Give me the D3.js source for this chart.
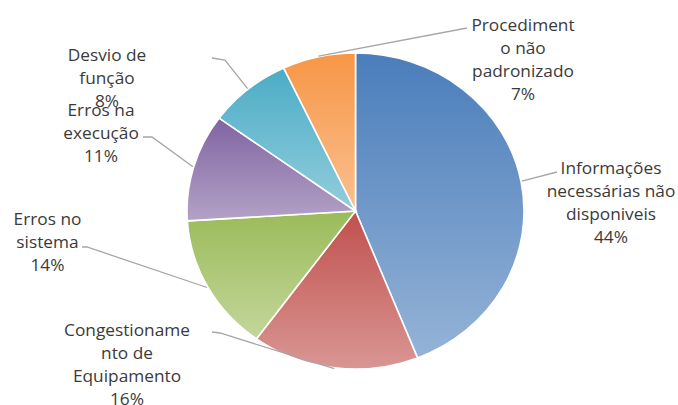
<!DOCTYPE html>
<html>
<head>
<meta charset="utf-8">
<script src="https://cdn.jsdelivr.net/npm/d3@7"></script>
<style>
  html, body { margin: 0; padding: 0; background: #ffffff; }
  svg { display: block; }
</style>
</head>
<body>
<svg id="chart" width="678" height="405"></svg>
<script>
// ---- data ----
const categories = [
  "Informações necessárias não disponiveis",
  "Congestionamento de Equipamento",
  "Erros no sistema",
  "Erros na execução",
  "Desvio de função",
  "Procedimento não padronizado"
];
const labelLines = [
  ["Informações", "necessárias não", "disponiveis"],
  ["Congestioname", "nto de", "Equipamento"],
  ["Erros no", "sistema"],
  ["Erros na", "execução"],
  ["Desvio de", "função"],
  ["Procediment", "o não", "padronizado"]
];
const values = [44, 16, 14, 11, 8, 7];
const colorsTop    = ["#4a7dbb", "#c0504d", "#9bbb59", "#8064a2", "#4bacc6", "#f79646"];
const colorsBottom = ["#95b3d7", "#d99694", "#c3d69b", "#b3a2c7", "#93cddd", "#fac090"];

// ---- layout ----
const W = 678, H = 405;
const cx = 355.5, cy = 211, ry = 158, rx = 168.5;
const sx = rx / ry;
// label block: center x, first baseline y, leader start points (near label)
const labelLayout = [
  { x: 611, y: 174, lead: [[557, 172]] },
  { x: 127, y: 336, lead: [[212, 332], [220, 333]] },
  { x: 47.5, y: 225, lead: [[82, 247], [87, 247]] },
  { x: 101, y: 116, lead: [[143, 137], [152, 137]] },
  { x: 107, y: 61, lead: [[212, 58], [225, 60]] },
  { x: 523, y: 31, lead: [[467, 28]] }
];
const lineH = 23;

const svg = d3.select("#chart");
const defs = svg.append("defs");

colorsTop.forEach((c, i) => {
  const g = defs.append("linearGradient")
    .attr("id", "grad" + i)
    .attr("x1", 0).attr("y1", 0).attr("x2", 0).attr("y2", 1);
  g.append("stop").attr("offset", "0%").attr("stop-color", c);
  g.append("stop").attr("offset", "100%").attr("stop-color", colorsBottom[i]);
});

const pie = d3.pie().sort(null).value(d => d)(values);
const arc = d3.arc().innerRadius(0).outerRadius(ry);

const gPie = svg.append("g")
  .attr("transform", `translate(${cx},${cy}) scale(${sx},1)`);

gPie.selectAll("path")
  .data(pie)
  .join("path")
  .attr("d", arc)
  .attr("fill", (d, i) => `url(#grad${i})`)
  .attr("stroke", "#ffffff")
  .attr("stroke-width", 1.6)
  .attr("vector-effect", "non-scaling-stroke");

// leader lines
const leaderPts = pie.map((d, i) => {
  const a = (d.startAngle + d.endAngle) / 2;
  const end = [cx + Math.sin(a) * rx * 1.005, cy - Math.cos(a) * ry * 1.005];
  return labelLayout[i].lead.concat([end]);
});
svg.append("g").selectAll("path")
  .data(leaderPts)
  .join("path")
  .attr("d", d => d3.line()(d))
  .attr("fill", "none")
  .attr("stroke", "#a6a6a6")
  .attr("stroke-width", 1.3);

// labels
const gLab = svg.append("g")
  .attr("font-family", "'Open Sans', 'Noto Sans', sans-serif")
  .attr("font-size", 16)
  .attr("fill", "#3a3a3a")
  .attr("text-anchor", "middle");

pie.forEach((d, i) => {
  const L = labelLayout[i];
  const lines = labelLines[i].concat([values[i] + "%"]);
  const t = gLab.append("text")
    .attr("transform", `translate(${L.x},${L.y}) scale(1.08,1)`);
  lines.forEach((ln, k) => {
    t.append("tspan").attr("x", 0).attr("y", k * lineH).text(ln);
  });
});
</script>
</body>
</html>
